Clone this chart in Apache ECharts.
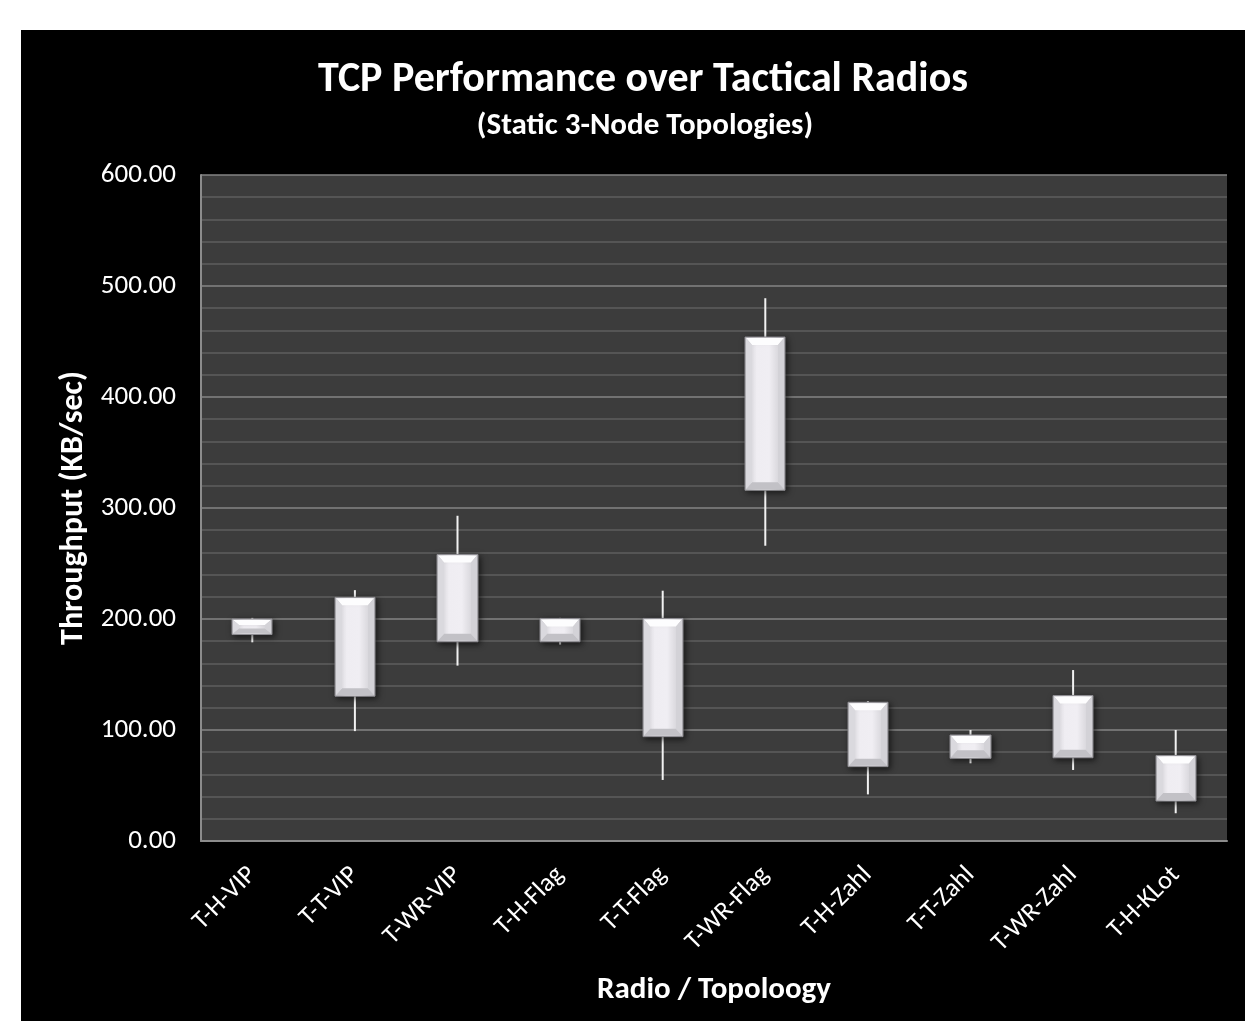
<!DOCTYPE html>
<html>
<head>
<meta charset="utf-8">
<script src="https://cdn.jsdelivr.net/npm/echarts@6/dist/echarts.min.js"></script>
<style>
  html, body { margin: 0; padding: 0; background: #ffffff; width: 1246px; height: 1021px; overflow: hidden; }
  #chart { position: absolute; left: 21px; top: 30px; width: 1224px; height: 991px; background: #000000; }
</style>
</head>
<body>
<div id="chart"></div>
<script>
// ---- data ----
var categories = ['T-H-VIP', 'T-T-VIP', 'T-WR-VIP', 'T-H-Flag', 'T-T-Flag', 'T-WR-Flag', 'T-H-Zahl', 'T-T-Zahl', 'T-WR-Zahl', 'T-H-KLot'];
var lowValues  = [179, 99, 158, 177, 55, 266, 42, 70, 64, 25];
var boxBottom  = [186, 130.5, 179.5, 179.5, 94, 316, 67, 74.5, 75, 36];
var boxTop     = [200, 219.5, 258, 200.5, 200.5, 454, 125, 95.5, 131, 77];
var highValues = [201, 226, 293, 201, 225.5, 489, 126, 100, 154, 100];
var yTicks = [0, 100, 200, 300, 400, 500, 600];

var FONT = 'Carlito, Lato, sans-serif';

var seriesData = categories.map(function (c, i) {
  return [i, lowValues[i], boxBottom[i], boxTop[i], highValues[i]];
});

function renderBox(params, api) {
  var idx = api.value(0);
  var xC = api.coord([idx, 0])[0];
  var yLow = api.coord([idx, api.value(1)])[1];
  var yB = api.coord([idx, api.value(2)])[1];
  var yT = api.coord([idx, api.value(3)])[1];
  var yHigh = api.coord([idx, api.value(4)])[1];
  var bw = api.size([1, 0])[0] * 0.39;
  var x0 = Math.round(xC - bw / 2), x1 = Math.round(xC + bw / 2);
  var h = yB - yT;
  var bv = Math.min(8, h / 2.6);
  var sv = Math.min(7, bw / 5);
  return {
    type: 'group',
    children: [
      { type: 'line', shape: { x1: xC, y1: yHigh, x2: xC, y2: yLow },
        style: { stroke: '#f2f2f2', lineWidth: 2 } },
      { type: 'rect', shape: { x: x0, y: yT, width: x1 - x0, height: h },
        style: {
          fill: { type: 'linear', x: 0, y: 0, x2: 1, y2: 0, colorStops: [
            { offset: 0, color: '#cfced3' }, { offset: 0.3, color: '#efedf2' },
            { offset: 0.6, color: '#f0eef3' }, { offset: 1, color: '#c8c7cc' }] },
          stroke: '#8e8d92', lineWidth: 1,
          shadowBlur: 6, shadowColor: 'rgba(0,0,0,0.6)', shadowOffsetX: 2, shadowOffsetY: 2
        } },
      { type: 'polygon', shape: { points: [[x0 + 1, yT + 1], [x1 - 1, yT + 1], [x1 - sv, yT + bv], [x0 + sv, yT + bv]] },
        style: { fill: '#fdfdfe' } },
      { type: 'polygon', shape: { points: [[x0 + 1, yB - 1], [x1 - 1, yB - 1], [x1 - sv, yB - bv], [x0 + sv, yB - bv]] },
        style: { fill: '#c2c1c6' } },
      { type: 'polygon', shape: { points: [[x0 + 1, yT + 1], [x0 + sv, yT + bv], [x0 + sv, yB - bv], [x0 + 1, yB - 1]] },
        style: { fill: '#dad9de' } },
      { type: 'polygon', shape: { points: [[x1 - 1, yT + 1], [x1 - sv, yT + bv], [x1 - sv, yB - bv], [x1 - 1, yB - 1]] },
        style: { fill: '#d3d2d7' } }
    ]
  };
}

var chart = echarts.init(document.getElementById('chart'), null, { renderer: 'canvas' });
chart.setOption({
  backgroundColor: '#000000',
  animation: false,
  title: [
    { text: 'TCP Performance over Tactical Radios', left: 617, top: 24, textAlign: 'center',
      textStyle: { color: '#ffffff', fontFamily: FONT, fontWeight: 'bold', fontSize: 42 } },
    { text: '(Static 3-Node Topologies)', left: 619, top: 76, textAlign: 'center',
      textStyle: { color: '#ffffff', fontFamily: FONT, fontWeight: 'bold', fontSize: 31 } }
  ],
  grid: { left: 180, top: 145, width: 1026, height: 666, show: true, backgroundColor: '#3c3c3c', borderWidth: 0 },
  xAxis: {
    type: 'category',
    data: categories,
    name: 'Radio / Topoloogy',
    nameLocation: 'middle',
    nameGap: 134,
    nameTextStyle: { color: '#ffffff', fontFamily: FONT, fontWeight: 'bold', fontSize: 31 },
    axisLine: { show: true, lineStyle: { color: '#8c8c8c', width: 2 } },
    axisTick: { show: false },
    axisLabel: { color: '#ffffff', fontFamily: FONT, fontSize: 26, rotate: 45, margin: 30, interval: 0 },
    splitLine: { show: false }
  },
  yAxis: {
    type: 'value',
    min: yTicks[0],
    max: yTicks[yTicks.length - 1],
    interval: 100,
    name: 'Throughput (KB/sec)',
    nameLocation: 'middle',
    nameGap: 110,
    nameTextStyle: { color: '#ffffff', fontFamily: FONT, fontWeight: 'bold', fontSize: 32 },
    axisLine: { show: true, lineStyle: { color: '#8c8c8c', width: 2 } },
    axisTick: { show: false },
    axisLabel: { color: '#ffffff', fontFamily: FONT, fontSize: 27, margin: 25,
      formatter: function (v) { return v.toFixed(2); } },
    splitLine: { show: true, lineStyle: { color: '#858585', width: 1.5 } },
    minorTick: { show: false, splitNumber: 5 },
    minorSplitLine: { show: true, lineStyle: { color: '#5e5e5e', width: 1.5 } }
  },
  series: [{
    type: 'custom',
    renderItem: renderBox,
    encode: { x: 0, y: [1, 2, 3, 4] },
    data: seriesData
  }]
});
</script>
</body>
</html>
